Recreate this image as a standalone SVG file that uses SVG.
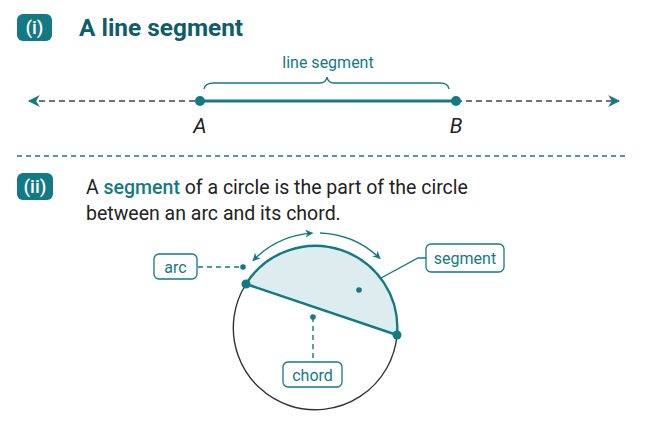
<svg xmlns="http://www.w3.org/2000/svg" width="645" height="430" viewBox="0 0 645 430">
<defs>
<style>
.badge{fill:#137a85}
.badgeText{font-family:Roboto,"Liberation Sans",sans-serif;font-size:19px;font-weight:500;fill:#ffffff;text-anchor:middle}
.title{font-family:Roboto,"Liberation Sans",sans-serif;font-size:24.4px;font-weight:bold;fill:#0e5d68}
.body{font-family:Roboto,"Liberation Sans",sans-serif;font-size:19.5px;fill:#222222}
.hl{fill:#137a85;font-weight:500}
.pt{font-family:Roboto,"Liberation Sans",sans-serif;font-size:21px;font-style:italic;fill:#222222;text-anchor:middle}
.lbl{font-family:Roboto,"Liberation Sans",sans-serif;font-size:16px;fill:#137a85;text-anchor:middle}
.box{fill:#ffffff;stroke:#137a85;stroke-width:1.3}
.teal{stroke:#137a85;fill:none}
.dashGray{stroke:#444444;stroke-width:1.6;stroke-dasharray:6 4;fill:none}
.dashTeal{stroke:#137a85;stroke-width:1.4;stroke-dasharray:5 4;fill:none}
.dot{fill:#137a85}
</style>
<marker id="arrG" viewBox="0 0 10 10" refX="9" refY="5" markerWidth="12" markerHeight="12" markerUnits="userSpaceOnUse" orient="auto-start-reverse">
<path d="M0,0 L10,5 L0,10 L3,5 Z" fill="#137a85"/>
</marker>
<marker id="arrS" viewBox="0 0 10 10" refX="9" refY="5" markerWidth="8" markerHeight="8" markerUnits="userSpaceOnUse" orient="auto-start-reverse">
<path d="M0,0 L10,5 L0,10 L3,5 Z" fill="#137a85"/>
</marker>
</defs>
<rect width="645" height="430" fill="#ffffff"/>

<g id="header1">
<rect class="badge" x="17" y="14" width="35" height="27" rx="6"/>
<text class="badgeText" x="34.5" y="34">(i)</text>
<text class="title" x="79" y="36">A line segment</text>
</g>

<g id="connectors">
<line class="dashGray" x1="29" y1="101" x2="200" y2="101" marker-start="url(#arrG)"/>
<line class="dashGray" x1="456" y1="101" x2="619" y2="101" marker-end="url(#arrG)"/>
<line x1="200" y1="101" x2="456" y2="101" stroke="#137a85" stroke-width="3"/>
<path class="teal" stroke-width="1.4" d="M204,89 Q205,83 214,83 L320,83 Q326,83 327,77 Q328,83 334,83 L440,83 Q448,83 449,89"/>
<line class="dashTeal" x1="17" y1="156" x2="628" y2="156"/>
<path class="teal" stroke-width="1.4" d="M312.5,233.1 A91,91 0 0 0 253,260.6" marker-start="url(#arrS)" marker-end="url(#arrS)"/>
<path class="teal" stroke-width="1.4" d="M320,233 A91,91 0 0 1 380,258.5" marker-end="url(#arrS)"/>
<line class="dashTeal" x1="198" y1="267" x2="243" y2="267"/>
<polyline class="teal" stroke-width="1.3" points="359,290 418,258 426,258"/>
<line class="dashTeal" x1="313" y1="317" x2="313" y2="362"/>
</g>

<g id="pointA">
<circle class="dot" cx="200" cy="101" r="5"/>
<text class="pt" x="200" y="133">A</text>
</g>
<g id="pointB">
<circle class="dot" cx="456" cy="101" r="5"/>
<text class="pt" x="456" y="133">B</text>
</g>
<g id="braceLabel">
<text class="lbl" x="328" y="68">line segment</text>
</g>

<g id="header2">
<rect class="badge" x="17" y="173" width="36" height="27" rx="6"/>
<text class="badgeText" x="35" y="193">(ii)</text>
<text class="body" x="86" y="194">A <tspan class="hl">segment</tspan> of a circle is the part of the circle</text>
<text class="body" x="86" y="220">between an arc and its chord.</text>
</g>

<g id="circle">
<path d="M246,284 A82,82 0 1 0 397,335" fill="none" stroke="#333333" stroke-width="1.4"/>
<path d="M246,284 A82,82 0 0 1 397,335 Z" fill="#dcecef" stroke="none"/>
<path d="M246,284 A82,82 0 0 1 397,335" fill="none" stroke="#137a85" stroke-width="2.4"/>
<line x1="246" y1="284" x2="397" y2="335" stroke="#137a85" stroke-width="2.4"/>
<circle class="dot" cx="246" cy="284" r="4.5"/>
<circle class="dot" cx="397" cy="335" r="4.5"/>
</g>

<g id="arcLabel">
<rect class="box" x="154" y="254" width="43" height="25" rx="5"/>
<text class="lbl" x="175.5" y="272.5">arc</text>
<circle class="dot" cx="243" cy="267" r="2.8"/>
</g>
<g id="segmentLabel">
<rect class="box" x="426" y="244" width="78" height="28" rx="5"/>
<text class="lbl" x="465" y="263.5">segment</text>
<circle class="dot" cx="359" cy="290" r="2.8"/>
</g>
<g id="chordLabel">
<rect class="box" x="283" y="362" width="59" height="25" rx="5"/>
<text class="lbl" x="312.5" y="380.5">chord</text>
<circle class="dot" cx="313" cy="317" r="2.8"/>
</g>
</svg>
